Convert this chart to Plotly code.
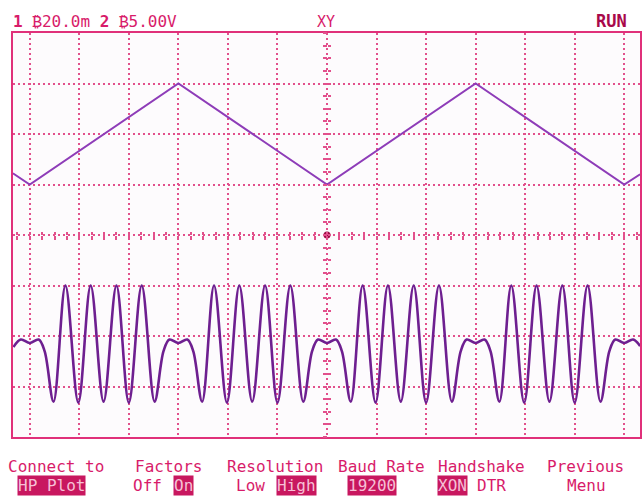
import plotly.graph_objects as go

# ---------------- data (graticule divisions, centre = 0,0) ----------------
tri_x = [-6.34, -6.0, -3.0, 0.0, 3.0, 6.0, 6.32]
tri_y = [1.22, 1.0, 3.0, 1.0, 3.0, 1.0, 1.2]

wave_x = [
    -6.33, -6.18, -6.0, -5.82, -5.7,
    -5.52, -5.28, -5.02, -4.77, -4.51, -4.25, -4.0, -3.74, -3.48,
    -3.3, -3.18, -3.0, -2.82, -2.7,
    -2.52, -2.28, -2.02, -1.77, -1.51, -1.25, -1.0, -0.74, -0.48,
    -0.3, -0.18, 0.0, 0.18, 0.3,
    0.48, 0.72, 0.98, 1.23, 1.49, 1.75, 2.0, 2.26, 2.52,
    2.7, 2.82, 3.0, 3.18, 3.3,
    3.48, 3.72, 3.98, 4.23, 4.49, 4.75, 5.0, 5.26, 5.52,
    5.7, 5.82, 6.0, 6.18, 6.32,
]
wave_y = [
    -2.22, -2.07, -2.14, -2.07, -2.3,
    -3.3, -1.0, -3.32, -1.0, -3.3, -1.0, -3.32, -1.0, -3.3,
    -2.3, -2.07, -2.14, -2.07, -2.3,
    -3.3, -1.0, -3.32, -1.0, -3.3, -1.0, -3.32, -1.0, -3.3,
    -2.3, -2.07, -2.14, -2.07, -2.3,
    -3.3, -1.0, -3.32, -1.0, -3.3, -1.0, -3.32, -1.0, -3.3,
    -2.3, -2.07, -2.14, -2.07, -2.3,
    -3.3, -1.0, -3.32, -1.0, -3.3, -1.0, -3.32, -1.0, -3.3,
    -2.3, -2.07, -2.14, -2.07, -2.2,
]

center_x = [0.0]
center_y = [0.0]

status_text = "<b>1</b> ₿20.0m <b>2</b> ₿5.00V"
mode_text = "XY"
run_text = "RUN"

menu_top = ["Connect to", "Factors", "Resolution", "Baud Rate", "Handshake", "Previous"]
menu_top_cx = [56, 169, 276, 383, 483, 587]
menu_bot = ["HP Plot", "Off", "On", "Low", "High", "19200", "XON", "DTR", "Menu"]
menu_bot_cx = [52, 148, 184, 251, 297, 373, 454, 493, 588]
menu_bot_hl = [True, False, True, False, True, True, True, False, False]

# ---------------- styling ----------------
W, H = 643, 498
L, R, T, B = 13, 642, 33, 437
XR = [-6.338, 6.318]
YR = [-4.0, 4.0]

MAG = "#d81b6a"
FRAME = "#e0307a"
GRID = "#e2508c"
HLBG = "#c8175f"
HLFG = "#f6c0d6"
TRI = "#8e3cb8"
WAVE = "#6e1f90"
MONO = "DejaVu Sans Mono, Liberation Mono, monospace"


def px(x):
    return (x - L) / (R - L)


def py(y):
    return (B - y) / (B - T)


fig = go.Figure()
fig.add_trace(go.Scatter(x=tri_x, y=tri_y, mode="lines",
                         line=dict(color=TRI, width=1.9), hoverinfo="skip"))
fig.add_trace(go.Scatter(x=wave_x, y=wave_y, mode="lines", xaxis="x2", yaxis="y2",
                         line=dict(color=WAVE, width=2.6, shape="spline", smoothing=1.0),
                         hoverinfo="skip"))
fig.add_trace(go.Scatter(x=center_x, y=center_y, mode="markers", xaxis="x3", yaxis="y3",
                         marker=dict(color="#9a0f45", size=7), hoverinfo="skip"))

base_x = dict(range=XR, dtick=1, tick0=0, showgrid=True, gridcolor=GRID, gridwidth=1.6,
              griddash="2px,3px", zeroline=False, showline=True, mirror=True,
              linecolor=FRAME, linewidth=2, ticks="", showticklabels=False, fixedrange=True)
base_y = dict(range=YR, dtick=1, tick0=0, showgrid=True, gridcolor=GRID, gridwidth=1.6,
              griddash="2px,3px", zeroline=False, showline=True, mirror=True,
              linecolor=FRAME, linewidth=2, ticks="", showticklabels=False, fixedrange=True)
cx = (0 - XR[0]) / (XR[1] - XR[0])
tick_x = lambda side: dict(range=XR, overlaying="x", anchor="free", position=0.5,
                           showgrid=False, zeroline=False, showline=False, ticks=side,
                           ticklen=3.5, tickwidth=1.6, tickcolor=GRID, dtick=0.25, tick0=0,
                           showticklabels=False, fixedrange=True)
tick_y = lambda side: dict(range=YR, overlaying="y", anchor="free", position=cx,
                           showgrid=False, zeroline=False, showline=False, ticks=side,
                           ticklen=3.5, tickwidth=1.6, tickcolor=GRID, dtick=0.25, tick0=0,
                           showticklabels=False, fixedrange=True)

fig.update_layout(
    width=W, height=H,
    margin=dict(l=L, r=W - R, t=T, b=H - B),
    paper_bgcolor="#ffffff", plot_bgcolor="#fdfbfd",
    showlegend=False,
    xaxis=base_x, yaxis=base_y,
    xaxis2=tick_x("outside"), yaxis2=tick_y("outside"),
    xaxis3=tick_x("inside"), yaxis3=tick_y("inside"),
)

ann = []
ann.append(dict(text=status_text, x=px(11), y=py(22), xanchor="left", yanchor="middle",
                font=dict(family=MONO, size=16, color=MAG)))
ann.append(dict(text=mode_text, x=px(327), y=py(22), xanchor="center", yanchor="middle",
                font=dict(family=MONO, size=15, color=MAG)))
ann.append(dict(text="<b>" + run_text + "</b>", x=px(613), y=py(21), xanchor="center",
                yanchor="middle",
                font=dict(family=MONO, size=17, color="#a8084a")))
for t, c in zip(menu_top, menu_top_cx):
    ann.append(dict(text=t, x=px(c), y=py(466), xanchor="center", yanchor="middle",
                    font=dict(family=MONO, size=16, color=MAG)))
for t, c, h in zip(menu_bot, menu_bot_cx, menu_bot_hl):
    d = dict(text=t, x=px(c), y=py(486), xanchor="center", yanchor="middle",
             font=dict(family=MONO, size=16, color=HLFG if h else MAG), borderpad=0)
    if h:
        d["bgcolor"] = HLBG
    ann.append(d)
for a in ann:
    a.update(xref="paper", yref="paper", showarrow=False)
fig.update_layout(annotations=ann)

fig.write_html(
    "out.html",
    config={"displayModeBar": False},
    post_script="document.body.style.margin='0';document.body.style.padding='0';"
                "document.body.style.overflow='hidden';",
)
